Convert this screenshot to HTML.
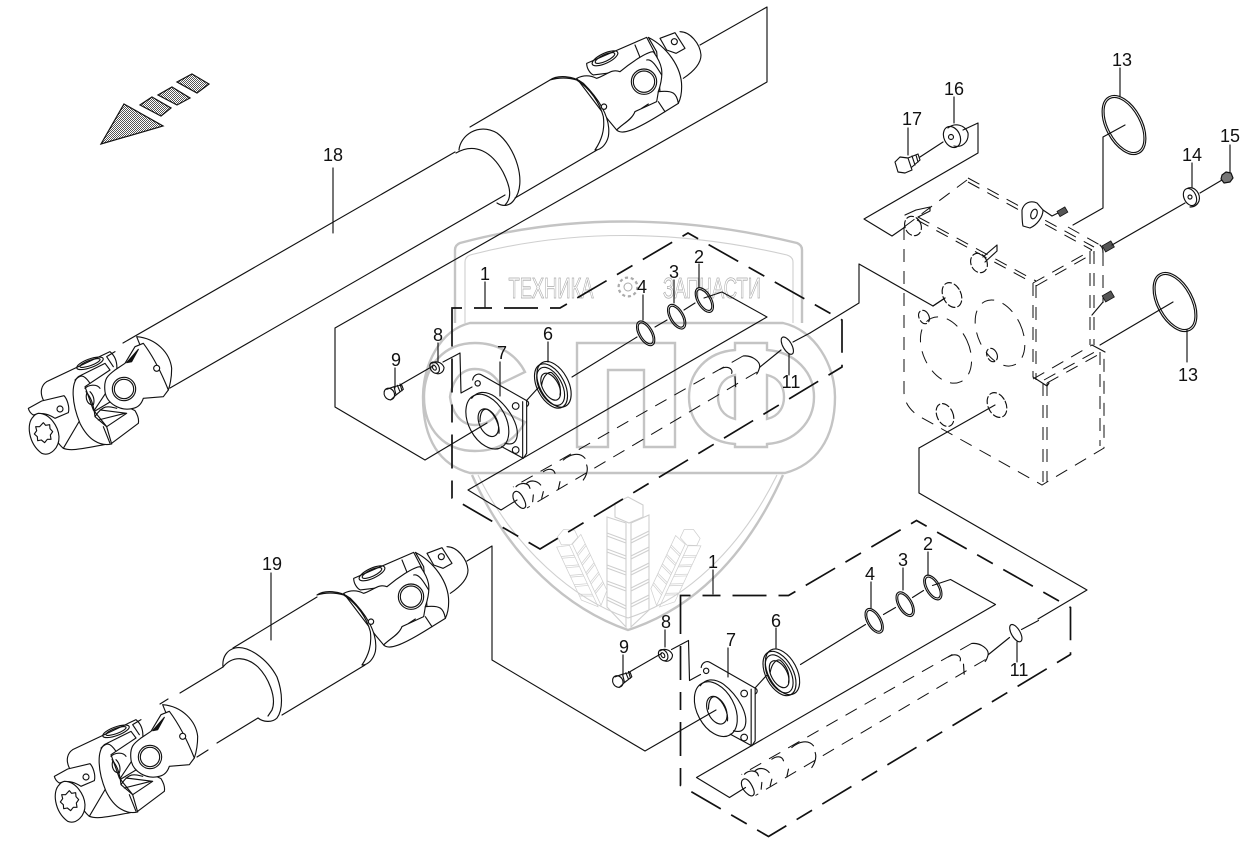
<!DOCTYPE html>
<html><head><meta charset="utf-8"><style>
html,body{margin:0;padding:0;background:#fff}
svg{display:block}
text{font-family:"Liberation Sans",sans-serif;font-size:18px;fill:#111;text-anchor:middle}
.l{fill:none;stroke:#111;stroke-width:1.15;stroke-linejoin:round;stroke-linecap:round}
.z{stroke-width:3.4}
.w{fill:#fff}
.box{fill:none;stroke:#111;stroke-width:1.7;stroke-dasharray:34 12 18 12}
.d{fill:none;stroke:#111;stroke-width:1;stroke-dasharray:13 9}
.m{fill:none;stroke:#c4c4c4;stroke-width:2.4}
.m2{fill:none;stroke:#cfcfcf;stroke-width:1.1}
.wm{font-size:29px;fill:#fff;stroke:#aaa;stroke-width:.8}
</style></head><body>
<svg width="1257" height="851" viewBox="0 0 1257 851" xmlns="http://www.w3.org/2000/svg">
<defs>
<pattern id="chk" width="2" height="2" patternUnits="userSpaceOnUse"><rect width="2" height="2" fill="#fff"/><rect width="1" height="1" fill="#555"/><rect x="1" y="1" width="1" height="1" fill="#555"/></pattern>
<g id="wheat">
<path class="m2" d="M0,-140 L15,-132 L15,-120 L1,-114 L-13,-120 L-13,-134 Z"/>
<path class="m2" d="M-21,-120 L-2,-114 L-2,-10 L-21,-30 Z M3,-114 L21,-122 L21,-27 L3,-10 Z"/>
<path class="m2" d="M-21,-104 L-2,-97 M-21,-101 L-2,-94 M-21,-88 L-2,-81 M-21,-85 L-2,-78 M-21,-72 L-2,-65 M-21,-69 L-2,-62 M-21,-56 L-2,-49 M-21,-53 L-2,-46 M-21,-40 L-2,-31 M-21,-37 L-2,-28 M3,-97 L21,-106 M3,-94 L21,-103 M3,-81 L21,-90 M3,-78 L21,-87 M3,-65 L21,-74 M3,-62 L21,-71 M3,-49 L21,-58 M3,-46 L21,-55 M3,-33 L21,-42 M3,-30 L21,-39"/>
</g>
<g id="jointA" transform="translate(0,320) scale(.33333)">
<path class="l z w" d="M130,240 C118,215 125,195 140,185 L330,95 C360,120 355,170 330,200 L250,320 L190,385 C160,360 140,300 130,240 Z"/>
<ellipse class="l z" cx="270" cy="130" rx="42" ry="13" transform="rotate(-20 270 130)"/>
<ellipse class="l z" cx="270" cy="129" rx="32" ry="8" transform="rotate(-20 270 129)"/>
<path class="l z w" d="M190,385 C215,395 250,385 335,370 L415,310 C418,295 410,280 405,272 L340,240 L240,300 Z"/>
<path class="l z w" d="M235,170 C212,190 215,250 240,310 C265,360 300,380 335,372 L320,320 L280,270 L255,200 L330,150 L315,130 Z"/>
<path class="l z" d="M225,180 C240,165 250,160 270,190 M255,205 C265,195 290,190 300,205 M258,215 C270,230 280,245 285,290 M260,220 C255,240 265,255 280,255 C285,240 280,225 270,215 M285,290 C310,250 330,260 350,265 M300,270 L380,280 L320,320 L285,290 M295,300 L375,280 M310,320 L330,370 M340,140 L320,110 L345,95"/>
<path class="l z w" d="M410,50 C470,55 510,100 515,145 C515,175 510,195 505,210 L430,100 Z"/>
<path class="l z w" d="M400,265 C360,275 320,250 315,215 C310,175 325,165 345,150 L375,130 L405,80 L430,70 C460,110 485,160 505,210 L490,230 L430,235 C425,250 415,262 400,265 Z"/>
<path class="l z" style="fill:#111" d="M380,128 L415,88 L395,125 Z"/>
<circle class="l z w" cx="372" cy="207" r="35"/><circle class="l z" cx="372" cy="207" r="29"/>
<circle class="l z w" cx="470" cy="145" r="9"/>
<path class="l z w" d="M85,265 L125,243 L192,227 C200,235 210,260 205,278 L165,295 C150,285 130,275 100,285 C92,280 87,273 85,265 Z"/>
<circle class="l z w" cx="180" cy="267" r="9"/>
<path class="l z w" d="M100,290 C78,310 85,370 125,400 C150,410 178,385 177,350 C175,320 150,280 115,280 C107,282 103,286 100,290 Z"/>
<path class="l z" d="M130,308 L137,316 L149,314 L150,326 L158,335 L151,345 L153,358 L142,358 L134,368 L124,360 L113,362 L112,350 L103,342 L110,332 L107,320 L119,320 Z"/>
</g>
<g id="jointB" transform="translate(540,0) scale(.33333)">
<path class="l z" d="M420,95 C450,95 480,130 483,165 C483,190 460,215 430,235"/>
<path class="l z w" d="M360,115 L405,98 L435,145 L408,160 L380,150 Z"/>
<circle class="l z w" cx="403" cy="125" r="9"/>
<path class="l z w" d="M325,112 C380,140 425,200 425,260 C425,285 420,300 415,310 L360,275 L350,155 Z"/>
<path class="l z w" d="M140,190 L320,112 L345,160 L240,215 L160,225 C150,220 140,205 140,190 Z"/>
<path class="l z" d="M285,135 L300,172"/>
<ellipse class="l z" cx="195" cy="175" rx="42" ry="15" transform="rotate(-25 195 175)"/>
<ellipse class="l z" cx="195" cy="174" rx="32" ry="10" transform="rotate(-25 195 174)"/>
<path class="l z w" d="M230,390 C250,370 275,360 285,335 L355,305 L355,275 C375,215 365,190 340,155 C320,155 270,190 240,215 C215,205 200,225 170,235 C150,225 130,225 110,235 L205,360 Z"/>
<path class="l z w" d="M230,390 C245,405 280,395 375,335 L415,310 C410,280 400,270 355,275 L350,305 L285,335 C275,360 250,370 230,390 Z"/>
<path class="l z" d="M355,305 L375,335 M305,325 L325,312 M320,180 C335,175 350,200 365,225"/>
<circle class="l z w" cx="312" cy="245" r="38"/><circle class="l z" cx="312" cy="245" r="32"/>
<path class="l z w" d="M30,240 C50,225 100,225 130,250 C170,290 215,350 205,410 C200,430 185,450 165,450 C185,420 195,390 190,350 C180,310 150,265 110,240 C85,232 55,232 30,240 Z"/>
<circle class="l z w" cx="192" cy="320" r="8"/>
</g>
<g id="assy">
<path class="box" d="M452,332 L452,308 L560,308 L688,233 L842,320 L842,367 L540,549 L452,498 L452,332"/>
<path class="l" d="M400,385 L433,366 M443,362 L460,353 L461,393 L472,387 M527,400 L538,388 M572,377 L637,337 M655,327 L667,320 M684,310 L695,303 M704,298 L722,292 L767,317 L468,490 L501,510 L517,500 M760,367 L781,350 M793,342 L810,333"/>
<g transform="translate(370,230) scale(.33333)">
<path class="l z" d="M308,450 C310,435 325,428 335,435 L470,512 L470,670 L460,685 L395,650 M458,515 L458,682 M470,512 C478,516 478,525 470,530"/>
<circle class="l z" cx="323" cy="460" r="8"/><circle class="l z" cx="437" cy="528" r="10"/><circle class="l z" cx="437" cy="660" r="10"/>
<path class="l z" d="M305,505 C320,485 345,480 375,500 C420,535 450,590 440,625 C435,640 425,645 405,640"/>
<ellipse class="l z" cx="352" cy="575" rx="56" ry="88" transform="rotate(-28 352 575)"/>
<ellipse class="l z" cx="355" cy="578" rx="27" ry="44" transform="rotate(-25 355 578)"/>
<path class="l z" d="M330,575 C330,545 340,535 352,538 C375,550 390,590 387,610"/>
<ellipse class="l z" cx="552" cy="463" rx="43" ry="74" transform="rotate(-28 552 463)"/>
<ellipse class="l z" cx="543" cy="468" rx="41" ry="72" transform="rotate(-28 543 468)"/>
<ellipse class="l z" cx="542" cy="469" rx="34" ry="62" transform="rotate(-28 542 469)"/>
<ellipse class="l z" cx="542" cy="470" rx="24" ry="44" transform="rotate(-28 542 470)"/>
<path class="l z" d="M515,465 C520,435 535,425 545,428 M545,428 C565,445 575,470 570,495"/>
<ellipse class="l z" cx="58" cy="492" rx="15" ry="18" transform="rotate(-30 58 492)"/>
<path class="l z" d="M50,478 L72,470 L78,495 L62,510 M72,470 L95,465 L100,478 L78,495 M82,466 L90,485 M90,462 L96,482"/>
<path class="l z" d="M185,400 C195,392 215,395 222,412 C222,425 210,435 198,430"/>
<ellipse class="l z" cx="194" cy="413" rx="13" ry="18" transform="rotate(-30 194 413)"/>
<ellipse class="l z" cx="193" cy="413" rx="5" ry="8" transform="rotate(-30 193 413)"/>
<ellipse class="l z" cx="827" cy="310" rx="21" ry="41" transform="rotate(-30 827 310)"/>
<ellipse class="l z" cx="827" cy="310" rx="16" ry="35" transform="rotate(-30 827 310)"/>
<ellipse class="l z" cx="920" cy="260" rx="21" ry="41" transform="rotate(-30 920 260)"/>
<ellipse class="l z" cx="920" cy="260" rx="16" ry="35" transform="rotate(-30 920 260)"/>
<ellipse class="l z" cx="1003" cy="210" rx="21" ry="41" transform="rotate(-30 1003 210)"/>
<ellipse class="l z" cx="1003" cy="210" rx="16" ry="35" transform="rotate(-30 1003 210)"/>
<ellipse class="l z" cx="1252" cy="347" rx="13" ry="29" transform="rotate(-30 1252 347)"/>
<path class="l z" d="M430,790 C440,775 455,790 465,815 C472,835 460,840 448,830 M430,790 C425,805 435,820 448,830 M438,770 C450,758 475,755 480,775 M470,760 C480,750 500,750 512,765 M520,725 C535,715 550,715 555,730 M580,690 C600,672 630,665 645,685 M650,705 C655,720 650,735 640,750 M570,755 L565,778 M520,785 L515,805 M490,795 L488,815 M1050,418 C1070,405 1090,415 1085,430 M1095,440 L1097,470 M1120,378 C1145,375 1175,395 1168,415 C1165,425 1162,430 1160,432"/>
</g>
<path class="d" d="M743,356 L513,487 M757,372 L527,508"/>
</g>
</defs>

<!-- watermark -->
<path class="m" d="M455,323 L455,250 Q455,245 460,243 Q620,200 797,243 Q802,245 802,250 L802,323"/>
<path class="m2" d="M465,323 L465,262 Q465,257 470,255 Q620,216 787,255 Q793,257 793,262 L793,323"/>
<path class="m" d="M470,323 L783,323 C815,330 835,365 835,397 C835,440 815,465 785,473 L470,473 C440,465 423,440 423,397 C423,365 440,330 470,323 Z"/>
<path class="m" d="M472,475 C510,560 570,610 628,630 C690,610 745,560 783,475"/>
<path class="m2" d="M478,475 C515,550 575,600 628,618 C685,600 740,550 777,475"/>
<path class="m" d="M525,372 C515,352 495,343 475,343 C445,343 424,365 424,397 C424,430 445,451 475,451 C497,451 515,441 525,422 L500,410 C495,418 487,425 475,425 C460,425 452,412 450,397 C452,382 460,369 475,369 C487,369 495,376 500,384 Z"/>
<path class="m" d="M577,343 L675,343 L675,447 L644,447 L644,370 L608,370 L608,447 L577,447 Z"/>
<path class="m" d="M735,343 L767,343 L767,350 C795,352 814,372 814,397 C814,422 795,442 767,444 L767,447 L735,447 L735,444 C707,442 689,422 689,397 C689,372 707,352 735,350 Z M735,375 C722,378 718,388 718,397 C718,406 722,416 735,419 Z M767,375 C780,378 784,388 784,397 C784,406 780,416 767,419 Z"/>
<text class="wm" x="551" y="298" textLength="85" lengthAdjust="spacingAndGlyphs">ТЕХНИКА</text>
<text class="wm" x="712" y="298" textLength="98" lengthAdjust="spacingAndGlyphs">ЗАПЧАСТИ</text>
<circle cx="628" cy="287" r="9" fill="none" stroke="#aaa" stroke-width="3" stroke-dasharray="3 2.6"/>
<circle cx="628" cy="287" r="7.5" fill="none" stroke="#fff" stroke-width="1.5"/>
<circle cx="628" cy="287" r="4" fill="none" stroke="#aaa"/>
<use href="#wheat" transform="translate(628,637)"/>
<use href="#wheat" transform="translate(602,612) rotate(-25) scale(.65)"/>
<use href="#wheat" transform="translate(655,612) rotate(25) scale(.65)"/>

<!-- arrow -->
<g fill="url(#chk)" stroke="#111" stroke-width="1.2">
<path d="M124,104 L163,126 L101,144 Z"/>
<path d="M152,97 L171,108 L161,116 L140,105 Z"/>
<path d="M172,87 L190,98 L177,105 L158,95 Z"/>
<path d="M192,74 L209,84 L197,93 L177,82 Z"/>
</g>

<!-- shaft 18 -->
<path class="l" d="M123,343 L455,152 M170,388 L505,195 M470,127 L550,80 M515,198 L597,150"/>
<path class="l" d="M459,150 C460,136 478,122 497,133 C515,146 528,183 514,200 C510,206 503,207 497,203"/>
<path class="l" d="M456,153 C475,142 492,152 503,172 C511,188 512,198 505,205"/>
<path class="l" d="M700,45 L767,7 L767,82 L335,328 L335,407 L425,460 L487,423"/>
<use href="#jointA"/>
<use href="#jointB"/>
<path class="l" d="M333,168 L333,233 M485,282 L485,307"/>

<!-- shaft 19 -->
<path class="l" d="M233,648 L317,597 M282,715 L365,665 M180,693 L223,667 M217,743 L258,718 M160,704 L168,699 M197,757 L208,750"/>
<path class="l" d="M223,667 C222,657 227,650 235,648 C247,645 267,658 277,677 C283,693 283,710 277,718 C272,723 263,722 258,718"/>
<path class="l" d="M223,667 C233,655 247,657 258,667 C268,677 277,697 272,710 L268,716"/>
<use href="#jointA" transform="translate(26,368)"/>
<use href="#jointB" transform="translate(-233,515)"/>
<path class="l" d="M467,561 L492,546 L492,660 L645,751 L716,710 M271,573 L271,640"/>

<!-- assemblies -->
<use href="#assy"/>
<use href="#assy" transform="translate(228.5,287.5)"/>
<path class="l" d="M810,333 L859,303 L859,264 L933,306 L945,298 M919,448 L919,493 L1087,590 L1038,619"/>
<path class="l" d="M995,405 L919,448"/>

<!-- leader lines -->
<path class="l" d="M699,264 L699,287 M674,280 L674,303 M643,295 L643,320 M548,342 L548,362 M500,362 L500,396 M438,343 L438,362 M395,368 L395,388 M789,354 L789,375
M713,570 L713,594 M928,552 L928,575 M903,568 L903,590 M871,582 L871,608 M776,628 L776,648 M728,648 L728,677 M665,630 L665,647 M623,655 L623,675 M1017,642 L1017,662
M1120,68 L1120,97 M1187,330 L1187,362 M954,97 L954,123 M908,128 L908,155 M1192,163 L1192,188 M1230,145 L1230,172"/>

<!-- gearbox -->
<g class="d">
<path d="M904,227 L904,392 Q904,405 917,415 L1042,485 L1047,482 L1104,448 L1104,352"/>
<path d="M1100,352 L1100,446"/>
<path d="M904,227 L967,180"/>
<path d="M968,182 L1092,250 M968,178 L1094,247 M917,220 L1033,283 M918,217 L1036,281"/>
<path d="M1033,283 L1092,250 M1036,286 L1094,253"/>
<path d="M1033,283 L1033,377 M1036,285 L1036,380 M1090,251 L1090,345 M1094,251 L1094,345 M1103,253 L1103,303"/>
<path d="M1033,379 L1092,345 M1047,383 L1103,352 M1044,380 L1100,349"/>
<path d="M1043,383 L1043,482 M1047,383 L1047,482"/>
<path d="M1068,227 L1100,245"/>
<ellipse cx="946" cy="350" rx="23" ry="35" transform="rotate(-25 946 350)"/>
<ellipse cx="1000" cy="333" rx="22" ry="35" transform="rotate(-25 1000 333)"/>
</g>
<path class="l" d="M1033,377 L1047,386 L1049,383 M1092,345 L1105,352 M1100,245 C1103,248 1103,250 1103,253"/>
<g class="l" stroke-dasharray="7 3">
<ellipse cx="952" cy="295" rx="9" ry="13" transform="rotate(-25 952 295)"/>
<ellipse cx="997" cy="405" rx="9" ry="13" transform="rotate(-25 997 405)"/>
<ellipse cx="945" cy="415" rx="8" ry="12" transform="rotate(-25 945 415)"/>
<ellipse cx="924" cy="317" rx="5" ry="7" transform="rotate(-25 924 317)"/>
<ellipse cx="992" cy="355" rx="5" ry="7" transform="rotate(-25 992 355)"/>
<ellipse cx="913" cy="226" rx="8" ry="10" transform="rotate(-25 913 226)"/>
<ellipse cx="979" cy="263" rx="8" ry="10" transform="rotate(-25 979 263)"/>
</g>
<path class="l" d="M905,215 L916,210 L930,207 L930,211 L918,217 M983,257 L997,245 L997,251 L985,262 M933,306 L945,298"/>
<path class="l w" d="M1022,210 C1024,203 1030,200 1037,203 L1043,210 C1043,217 1037,225 1030,228 L1023,226 C1022,222 1022,216 1022,210 Z"/>
<ellipse class="l" cx="1034" cy="214" rx="3" ry="5" transform="rotate(20 1034 214)"/>
<path class="l" d="M1043,210 L1052,216 L1058,213"/>
<g fill="#555" stroke="#111" stroke-width=".8">
<rect x="1058" y="209" width="9" height="6" transform="rotate(-30 1062 212)"/>
<rect x="1103" y="243" width="10" height="7" transform="rotate(-30 1108 246)"/>
<rect x="1103" y="293" width="10" height="7" transform="rotate(-30 1108 296)"/>
</g>
<path class="l" d="M1103,302 L1092,315 M1112,245 L1185,203 M1200,193 L1222,180 M943,142 L920,157 M963,130 L978,123 L978,153 L864,219 L892,236 L905,227"/>
<!-- washer 16 / bolt 17 -->
<path class="l" d="M948,128 C955,122 965,125 968,133 C969,142 962,148 954,146"/>
<ellipse class="l" cx="952" cy="137" rx="8" ry="11" transform="rotate(-25 952 137)"/>
<circle class="l" cx="951" cy="137" r="2.5"/>
<path class="l" d="M895,162 L900,157 L908,158 L912,170 L905,173 L898,172 Z M908,158 L918,154 L920,160 L912,167 M912,156 L915,165 M916,155 L918,162"/>
<!-- washer 14 / nut 15 -->
<path class="l" d="M1188,188 C1195,186 1201,194 1199,201 C1197,206 1193,207 1190,207"/>
<ellipse class="l" cx="1190" cy="197" rx="6" ry="9" transform="rotate(-25 1190 197)"/>
<circle class="l" cx="1190" cy="197" r="2"/>
<path class="l" style="fill:#777" d="M1222,175 L1226,172 L1231,173 L1233,178 L1230,182 L1224,183 L1221,179 Z"/>
<!-- rings 13 -->
<ellipse class="l" cx="1124" cy="125" rx="18" ry="32" transform="rotate(-28 1124 125)"/>
<ellipse class="l" cx="1124" cy="125" rx="16" ry="30" transform="rotate(-28 1124 125)"/>
<ellipse class="l" cx="1175" cy="302" rx="18" ry="32" transform="rotate(-28 1175 302)"/>
<ellipse class="l" cx="1175" cy="302" rx="16" ry="30" transform="rotate(-28 1175 302)"/>
<path class="l" d="M1125,125 L1103,137 L1103,208 L1073,225 M1173,302 L1100,345"/>

<!-- labels -->
<text x="333" y="161">18</text>
<text x="272" y="570">19</text>
<text x="485" y="280">1</text>
<text x="699" y="263">2</text>
<text x="674" y="278">3</text>
<text x="642" y="293">4</text>
<text x="548" y="340">6</text>
<text x="502" y="359">7</text>
<text x="438" y="341">8</text>
<text x="396" y="366">9</text>
<text x="791" y="388">11</text>
<text x="713" y="568">1</text>
<text x="928" y="550">2</text>
<text x="903" y="566">3</text>
<text x="870" y="580">4</text>
<text x="776" y="627">6</text>
<text x="731" y="646">7</text>
<text x="666" y="628">8</text>
<text x="624" y="653">9</text>
<text x="1019" y="676">11</text>
<text x="1122" y="66">13</text>
<text x="1188" y="381">13</text>
<text x="954" y="95">16</text>
<text x="912" y="125">17</text>
<text x="1192" y="161">14</text>
<text x="1230" y="142">15</text>
</svg>
</body></html>
